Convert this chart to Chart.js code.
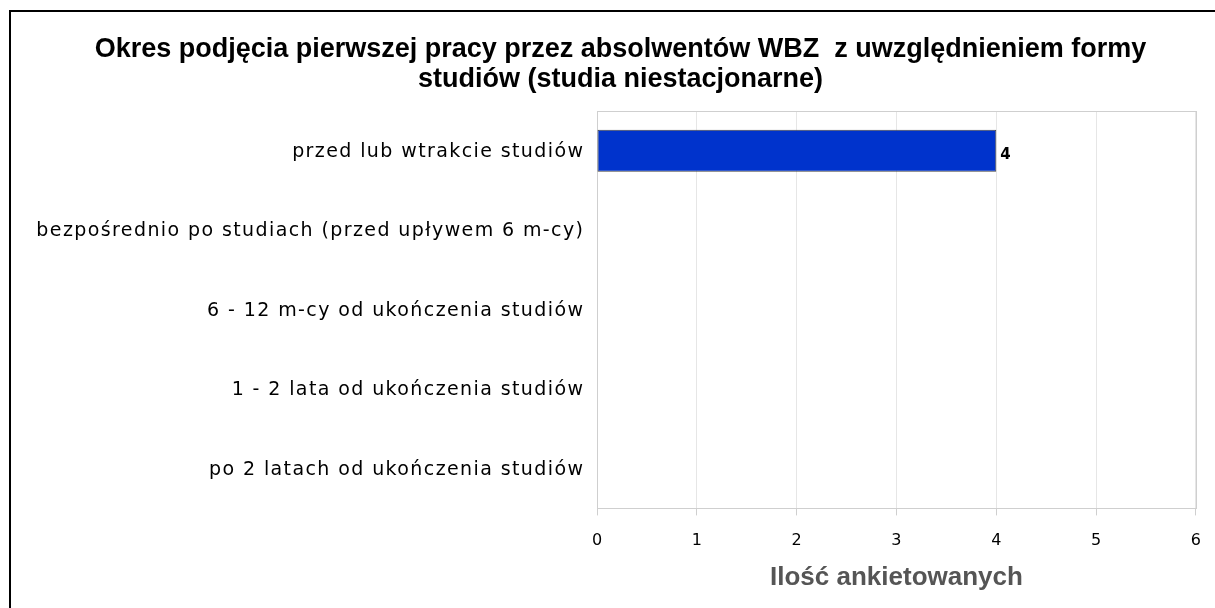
<!DOCTYPE html>
<html>
<head>
<meta charset="utf-8">
<script src="https://cdn.jsdelivr.net/npm/chart.js@4/dist/chart.umd.min.js"></script>
<style>
  html, body { margin: 0; padding: 0; background: #fff; overflow: hidden; }
  #box {
    position: absolute; left: 9px; top: 10px;
    width: 1220px; height: 620px;
    border: 2px solid #000;
  }
  #chart { display: block; }
</style>
</head>
<body>
<div id="box"><canvas id="chart" width="1206" height="600"></canvas></div>
<script>
const categories = [
  'przed lub wtrakcie studiów',
  'bezpośrednio po studiach (przed upływem 6 m-cy)',
  '6 - 12 m-cy od ukończenia studiów',
  '1 - 2 lata od ukończenia studiów',
  'po 2 latach od ukończenia studiów',
]
const counts = [4, 0, 0, 0, 0]
const titleLines = [
  'Okres podjęcia pierwszej pracy przez absolwentów WBZ  z uwzględnieniem formy',
  'studiów (studia niestacjonarne)',
]
const axisTitle = 'Ilość ankietowanych'

// grey frame round the plot area
const frame = {
  id: 'frame',
  beforeDatasetsDraw(chart) {
    const { ctx, chartArea: a } = chart
    ctx.save()
    ctx.strokeStyle = '#cfcfcf'
    ctx.lineWidth = 1
    ctx.strokeRect(Math.round(a.left) + 0.5, Math.round(a.top) + 0.5,
      Math.round(a.right - a.left), Math.round(a.bottom - a.top))
    ctx.restore()
  },
}

// category labels, drawn with some letter spacing like the original
const catLabels = {
  id: 'catLabels',
  afterDraw(chart) {
    const { ctx } = chart
    const y = chart.scales.y
    const right = chart.chartArea.left - 14
    ctx.save()
    ctx.font = '19px "DejaVu Sans", sans-serif'
    ctx.letterSpacing = '1.4px'
    ctx.fillStyle = '#000'
    ctx.textAlign = 'right'
    ctx.textBaseline = 'middle'
    categories.forEach((c, i) => {
      ctx.fillText(c, right + 1.4, y.getPixelForValue(i) + 1)
    })
    ctx.restore()
  },
}

// value next to the end of each bar
const valueLabels = {
  id: 'valueLabels',
  afterDatasetsDraw(chart) {
    const { ctx } = chart
    const meta = chart.getDatasetMeta(0)
    ctx.save()
    ctx.font = 'bold 15px "DejaVu Sans", sans-serif'
    ctx.fillStyle = '#000'
    ctx.textBaseline = 'middle'
    meta.data.forEach((bar, i) => {
      if (!counts[i]) return
      ctx.fillText(String(counts[i]), bar.x + 4, bar.y + 4)
    })
    ctx.restore()
  },
}

const ctx = document.getElementById('chart').getContext('2d')

const chart = new Chart(ctx, {
  type: 'bar',
  data: {
    labels: categories,
    datasets: [
      {
        data: counts,
        backgroundColor: '#0033cc',
        borderColor: '#444',
        borderWidth: 1,
        borderSkipped: false,
        barPercentage: 0.53,
        categoryPercentage: 1,
      },
    ],
  },
  options: {
    indexAxis: 'y',
    responsive: false,
    animation: false,
    layout: { padding: { left: 32, right: 19, top: 0, bottom: 22 } },
    plugins: {
      legend: { display: false },
      tooltip: { enabled: false },
      title: {
        display: true,
        text: titleLines,
        color: '#000',
        font: { family: '"Liberation Sans", Arial, sans-serif', size: 27, weight: 'bold', lineHeight: 30 / 27 },
        padding: { top: 23, bottom: 16 },
      },
    },
    scales: {
      x: {
        min: 0,
        max: 6,
        ticks: {
          stepSize: 1,
          color: '#000',
          padding: 16,
          font: { family: '"DejaVu Sans", sans-serif', size: 16 },
        },
        grid: { color: '#e6e6e6', tickColor: '#cfcfcf', tickLength: 7 },
        border: { color: '#cfcfcf' },
        title: {
          display: true,
          text: axisTitle,
          color: '#555',
          font: { family: '"Liberation Sans", Arial, sans-serif', size: 26, weight: 'bold', lineHeight: 0.9 },
          padding: { top: 0, bottom: 0 },
        },
      },
      y: {
        afterFit(scale) { scale.width = 554 },
        grid: { display: false, drawTicks: false },
        border: { display: false },
        ticks: { display: false },
      },
    },
  },
  plugins: [frame, catLabels, valueLabels],
})
</script>
</body>
</html>
